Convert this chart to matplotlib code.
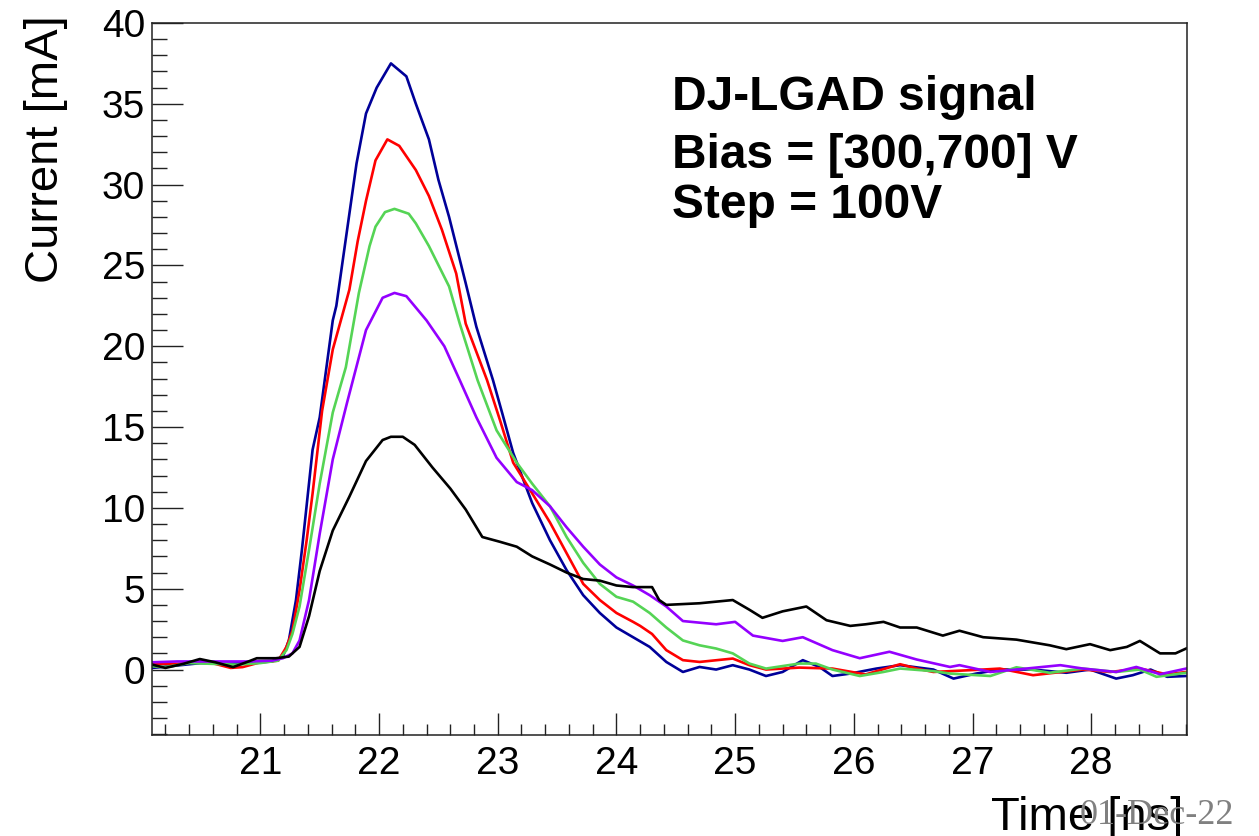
"""DJ-LGAD current signals for a bias scan, ROOT-style canvas."""

import matplotlib
matplotlib.use("Agg")
import matplotlib.pyplot as plt
from matplotlib.ticker import MultipleLocator

plt.rcParams["font.family"] = ["Liberation Sans", "DejaVu Sans"]

# values (time in ns, current in mA)
t_blue = [20.09, 20.3, 20.5, 20.7, 20.9, 21.1, 21.19, 21.24, 21.3, 21.35, 21.44, 21.5, 21.61, 21.64, 21.69,
          21.75, 21.81, 21.89, 21.98, 22.1, 22.23, 22.31, 22.42, 22.5, 22.59, 22.73, 22.82, 22.96, 23.04,
          23.13, 23.29, 23.44, 23.58, 23.72, 23.86, 24.0, 24.14, 24.28, 24.42, 24.56, 24.7, 24.84, 24.98,
          25.12, 25.26, 25.4, 25.57, 25.71, 25.82, 25.97, 26.19, 26.39, 26.67, 26.84, 27.03, 27.23, 27.51,
          27.79, 27.99, 28.21, 28.35, 28.5, 28.64, 28.8]
i_blue = [0.1, 0.25, 0.4, 0.35, 0.4, 0.5, 0.8, 1.8, 4.3, 7.4, 13.6, 15.6, 21.6, 22.5, 25.1,
          28.2, 31.3, 34.4, 36.0, 37.5, 36.7, 35.0, 32.8, 30.3, 28.0, 23.9, 21.2, 17.9, 15.8,
          13.4, 10.3, 8.0, 6.15, 4.6, 3.5, 2.6, 2.0, 1.4, 0.47, -0.15, 0.16, 0.0, 0.27,
          0.0, -0.4, -0.15, 0.58, 0.16, -0.4, -0.25, 0.06, 0.27, 0.0, -0.56, -0.25, 0.0, 0.0,
          -0.2, 0.0, -0.56, -0.35, 0.0, -0.45, -0.4]

t_red = [20.09, 20.3, 20.5, 20.62, 20.75, 20.85, 21.0, 21.15, 21.22, 21.27, 21.33, 21.39, 21.44, 21.52,
         21.61, 21.75, 21.82, 21.89, 21.97, 22.07, 22.17, 22.31, 22.42, 22.53, 22.65, 22.73, 22.91, 23.02,
         23.13, 23.29, 23.44, 23.58, 23.72, 23.86, 24.0, 24.14, 24.2, 24.3, 24.42, 24.56, 24.7, 24.98,
         25.12, 25.26, 25.54, 25.82, 26.1, 26.39, 26.53, 26.67, 27.09, 27.23, 27.51, 27.93, 28.16, 28.41,
         28.64, 28.8]
i_red = [0.35, 0.35, 0.5, 0.35, 0.1, 0.15, 0.45, 0.55, 1.4, 2.4, 4.9, 8.0, 10.9, 16.0,
         19.8, 23.5, 26.5, 29.0, 31.5, 32.8, 32.4, 30.9, 29.3, 27.2, 24.5, 21.4, 17.9, 15.4,
         12.8, 10.9, 9.1, 7.2, 5.3, 4.3, 3.5, 2.95, 2.7, 2.2, 1.2, 0.58, 0.47, 0.68,
         0.27, 0.0, 0.12, 0.06, -0.3, 0.33, 0.06, -0.15, 0.0, 0.06, -0.35, 0.0, -0.15, 0.06,
         -0.3, -0.15]

t_green = [20.09, 20.2, 20.4, 20.6, 20.8, 21.0, 21.15, 21.22, 21.27, 21.33, 21.41, 21.5, 21.61, 21.72,
           21.83, 21.92, 21.97, 22.05, 22.13, 22.25, 22.31, 22.42, 22.59, 22.68, 22.83, 22.99, 23.16,
           23.29, 23.44, 23.58, 23.72, 23.86, 24.0, 24.14, 24.28, 24.42, 24.56, 24.7, 24.84, 24.98,
           25.12, 25.26, 25.54, 25.68, 25.82, 26.05, 26.25, 26.39, 26.67, 26.81, 27.15, 27.37, 27.65,
           27.93, 28.21, 28.41, 28.55, 28.8]
i_green = [0.2, 0.15, 0.4, 0.35, 0.3, 0.4, 0.55, 1.2, 2.2, 3.9, 7.4, 11.5, 15.9, 18.7,
           23.3, 26.2, 27.4, 28.3, 28.5, 28.2, 27.6, 26.2, 23.7, 21.4, 17.9, 14.8, 12.8,
           11.5, 10.1, 8.2, 6.6, 5.3, 4.5, 4.2, 3.5, 2.6, 1.8, 1.5, 1.3, 1.0,
           0.37, 0.06, 0.37, 0.37, 0.0, -0.4, -0.15, 0.06, -0.1, -0.25, -0.4, 0.14, -0.2,
           0.06, -0.15, 0.0, -0.45, -0.2]

t_purple = [20.09, 20.3, 20.5, 20.7, 20.9, 21.1, 21.19, 21.27, 21.33, 21.41, 21.5, 21.61, 21.73, 21.89,
            22.03, 22.13, 22.23, 22.4, 22.55, 22.68, 22.82, 22.99, 23.16, 23.29, 23.44, 23.58, 23.72,
            23.86, 24.0, 24.14, 24.28, 24.42, 24.56, 24.84, 25.0, 25.15, 25.4, 25.57, 25.82, 26.05,
            26.3, 26.53, 26.81, 26.89, 27.15, 27.37, 27.74, 27.93, 28.21, 28.38, 28.58, 28.8]
i_purple = [0.45, 0.5, 0.5, 0.5, 0.5, 0.55, 0.7, 1.0, 1.8, 4.3, 8.4, 13.0, 16.5, 21.0,
            23.0, 23.3, 23.1, 21.6, 20.0, 17.9, 15.6, 13.1, 11.6, 11.1, 10.1, 8.8, 7.6,
            6.5, 5.7, 5.2, 4.6, 3.9, 3.0, 2.8, 2.95, 2.1, 1.77, 2.0, 1.2, 0.7,
            1.1, 0.62, 0.16, 0.27, -0.15, 0.0, 0.27, 0.06, -0.15, 0.16, -0.29, 0.06]

t_black = [20.09, 20.2, 20.35, 20.49, 20.62, 20.77, 20.9, 20.97, 21.13, 21.24, 21.33, 21.41, 21.5, 21.61,
           21.75, 21.89, 22.03, 22.1, 22.2, 22.3, 22.45, 22.6, 22.73, 22.87, 23.02, 23.16, 23.29, 23.44,
           23.58, 23.72, 23.86, 24.0, 24.14, 24.3, 24.36, 24.42, 24.7, 24.84, 24.98, 25.12, 25.23, 25.4,
           25.6, 25.77, 25.97, 26.1, 26.25, 26.39, 26.53, 26.75, 26.89, 27.09, 27.37, 27.65, 27.79,
           27.99, 28.16, 28.3, 28.41, 28.58, 28.71, 28.8]
i_black = [0.3, 0.1, 0.35, 0.65, 0.45, 0.15, 0.5, 0.7, 0.7, 0.8, 1.4, 3.3, 6.1, 8.6,
           10.7, 12.9, 14.2, 14.4, 14.4, 13.9, 12.5, 11.2, 9.9, 8.2, 7.9, 7.6, 7.0, 6.5,
           6.0, 5.6, 5.5, 5.2, 5.1, 5.1, 4.3, 4.0, 4.1, 4.2, 4.3, 3.7, 3.2, 3.6,
           3.9, 3.05, 2.7, 2.8, 2.95, 2.6, 2.6, 2.1, 2.4, 2.0, 1.85, 1.5, 1.26,
           1.57, 1.2, 1.4, 1.77, 1.0, 1.0, 1.3]

SERIES = [(t_blue, i_blue, "#000099"), (t_red, i_red, "#ff0000"), (t_green, i_green, "#55d455"),
          (t_purple, i_purple, "#9400ff"), (t_black, i_black, "#000000")]
W, H = 1259, 836

fig = plt.figure(figsize=(W / 100, H / 100), dpi=100)
ax = fig.add_axes([152 / W, 1 - 735 / H, (1187 - 152) / W, (735 - 23) / H])
for t, i, color in SERIES:
    ax.plot(t, i, color=color, linewidth=1.9)

ax.set_xlim(20.087, 28.807)
ax.set_ylim(-4.05, 40)
ax.xaxis.set_major_locator(MultipleLocator(1)); ax.xaxis.set_minor_locator(MultipleLocator(0.2))
ax.yaxis.set_major_locator(MultipleLocator(5)); ax.yaxis.set_minor_locator(MultipleLocator(1))
ax.tick_params(which="both", direction="in", top=False, right=False, width=1.0, color="#222222")
ax.tick_params(axis="y", which="major", length=22, labelsize=28, pad=5)
ax.tick_params(axis="y", which="minor", length=11)
ax.tick_params(axis="x", which="major", length=16, labelsize=28, pad=8)
ax.tick_params(axis="x", which="minor", length=8)
for spine in ax.spines.values():
    spine.set_linewidth(1.1); spine.set_color("#222222")

fig.text(24 / W, 1 - 15 / H, "Current [mA]", rotation=90, ha="left", va="top", fontsize=34)
fig.text(1183 / W, 1 - 830 / H, "Time [ns]", ha="right", va="baseline", fontsize=34)
fig.text(1080 / W, 1 - 824 / H, "01-Dec-22", ha="left", va="baseline", fontsize=26,
         family=["Liberation Serif", "DejaVu Serif"], color="#808080")

for text, base in [("DJ-LGAD signal", 110), ("Bias = [300,700] V", 168), ("Step = 100V", 218)]:
    fig.text(672 / W, 1 - base / H, text, ha="left", va="baseline", fontsize=34.5, fontweight="bold")

fig.savefig("out.png", dpi=100)
